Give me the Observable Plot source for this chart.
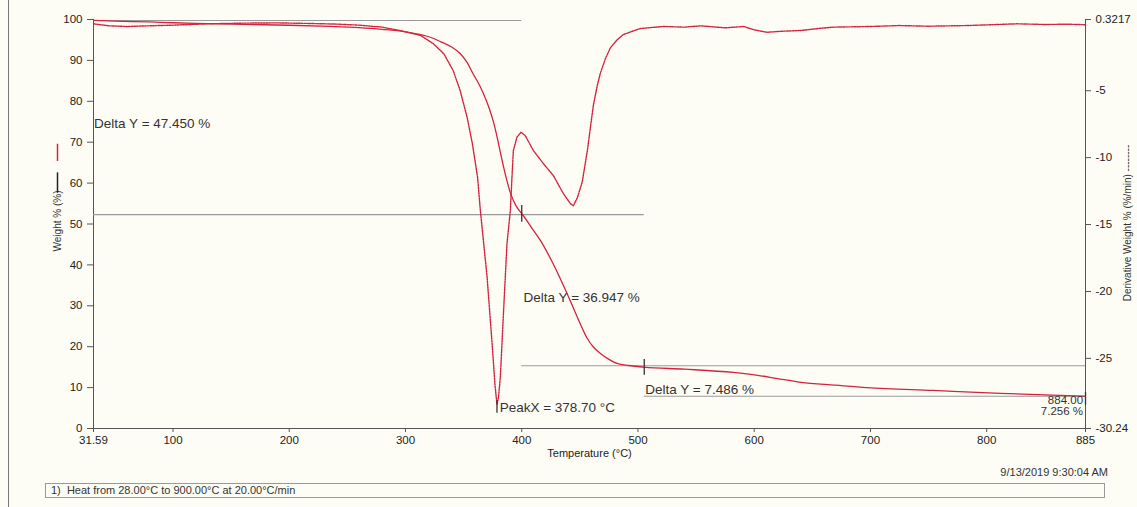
<!DOCTYPE html>
<html><head><meta charset="utf-8">
<script src="https://cdn.jsdelivr.net/npm/d3@7"></script>
<script src="https://cdn.jsdelivr.net/npm/@observablehq/plot@0.6"></script>
<style>
html,body{margin:0;padding:0;background:#fdfdf6;}
body{width:1137px;height:507px;position:relative;overflow:hidden;font-family:"Liberation Sans",Arial,sans-serif;color:#333;}
#chart{position:absolute;left:0;top:0;}
.border{position:absolute;left:8px;top:0;width:1px;height:507px;background:#777;}
#stamp{position:absolute;right:29px;top:466px;font-size:11px;}
#box{position:absolute;left:45px;top:483px;width:1060px;height:15px;border:1px solid #999;font-size:11px;line-height:13px;padding-left:5px;box-sizing:border-box;}
</style></head><body>
<div class="border"></div>
<div id="chart"></div>
<div id="stamp">9/13/2019 9:30:04 AM</div>
<div id="box">1)&nbsp; Heat from 28.00°C to 900.00°C at 20.00°C/min</div>
<script>
// ---- data ----
const weightT = [31.59,50,80,100,130,160,200,235,260,280,300,313,322,330,340,347,353,358,363,367,372,376,379,382,386,390,395,401,408,416,427,439,448,456,462,468,475,482,492,505,540,582,603,620,640,670,697,754,812,850,884];
const weightW = [99.8,99.6,99.4,99.2,99.0,98.8,98.6,98.3,98.0,97.6,97.0,96.3,95.6,94.6,93.2,91.7,89.5,86.8,84.3,81.9,78.3,74.6,71.0,67.0,62.0,57.8,54.5,52.2,49.3,46.0,40.3,33.0,27.1,22.2,19.8,18.3,16.9,15.9,15.4,15.0,14.5,13.7,13.0,12.2,11.3,10.6,10.0,9.3,8.6,8.2,7.9];
const dtgT = [31.6,45,60,80,100,130,160,190,215,240,260,280,295,305,313,324,333,341,347,353,357.5,362,364.4,370.2,374.5,377,378.7,380,381.6,384.4,387.3,390.2,391.6,392.8,395.9,399.4,403,410,418.6,427.2,435.8,441.8,444.4,447.8,452.1,456.4,459,461.6,465,467.6,472,476.2,482,487.4,502,522,540,554,575,591,600,611,625,640,655,668,700,725,750,783,800,826,850,870,885];
const dtgD = [0.0,-0.15,-0.2,-0.15,-0.1,0.0,0.05,0.07,0.03,-0.02,-0.1,-0.25,-0.5,-0.7,-0.87,-1.49,-2.24,-3.49,-4.98,-6.98,-8.94,-11.46,-13.95,-18.93,-23.89,-27.0,-28.45,-27.9,-26.4,-21.42,-16.44,-13.95,-11.46,-9.47,-8.47,-8.1,-8.35,-9.47,-10.44,-11.34,-12.68,-13.43,-13.6,-13.0,-11.8,-9.5,-7.8,-6.1,-4.6,-3.7,-2.6,-1.8,-1.2,-0.8,-0.35,-0.2,-0.25,-0.15,-0.3,-0.2,-0.45,-0.63,-0.55,-0.5,-0.35,-0.25,-0.2,-0.13,-0.18,-0.13,-0.08,0.0,-0.05,-0.03,-0.07];
const xTicks = [31.59,100,200,300,400,500,600,700,800,885];
const xTickLabels = ["31.59","100","200","300","400","500","600","700","800","885"];
const yTicks = [0,10,20,30,40,50,60,70,80,90,100];
const dTicks = [0.3217,-5,-10,-15,-20,-25,-30.24];
const dTickLabels = ["0.3217","-5","-10","-15","-20","-25","-30.24"];
const dRange = [-30.24, 0.3217];
// delta-Y step lines: level, from, to
const stepLevel = [99.76, 52.3, 15.36, 7.87];
const stepFrom = [31.59, 31.59, 400, 505.4];
const stepTo = [400, 505.4, 885, 885];
// markers on curves: x, y1, y2
const markX = [400, 505.4, 378.7, 885];
const markY1 = [50.4, 13.0, 3.7, 5.6];
const markY2 = [54.5, 16.9, 6.8, 8.8];
// annotations
const annoText = ["Delta Y = 47.450 %","Delta Y = 36.947 %","Delta Y = 7.486 %","PeakX = 378.70 °C"];
const annoX = [32.1, 401.6, 506.3, 381.0];
const annoY = [74.6, 31.9, 9.5, 5.2];
const endText = ["884.00","7.256 %"];
const endX = [882.9, 882.9];
const endY = [7.0, 4.1];

// ---- build ----
const toW = d => (d - dRange[0]) / (dRange[1] - dRange[0]) * 100;
const weight = weightT.map((t,i)=>({t, w: weightW[i]}));
const dtg = dtgT.map((t,i)=>({t, w: toW(dtgD[i])}));
const steps = stepLevel.map((y,i)=>({y, x1: stepFrom[i], x2: stepTo[i]}));
const marks = markX.map((x,i)=>({x, y1: markY1[i], y2: markY2[i]}));
const annos = annoText.map((s,i)=>({s, x: annoX[i], y: annoY[i]}));
const ends = endText.map((s,i)=>({s, x: endX[i], y: endY[i]}));
const dTicksW = dTicks.map(toW);
const RED = "#d4223f";
const AX = "#555";

const plot = Plot.plot({
  width: 1137, height: 460,
  marginTop: 19, marginBottom: 32, marginLeft: 93, marginRight: 52,
  style: {background: "transparent", fontFamily: "'Liberation Sans', Arial, sans-serif", fontSize: "11.5px", color: "#222"},
  x: {domain: [31.59, 885]},
  y: {domain: [0, 100]},
  marks: [
    Plot.axisX({ticks: xTicks, tickFormat: d => xTickLabels[xTicks.indexOf(d)], tickSize: 4, tickPadding: 3, label: null, stroke: AX}),
    Plot.axisY({ticks: yTicks, tickSize: 6, tickPadding: 5, label: null, stroke: AX}),
    Plot.axisY({anchor: "right", ticks: dTicksW, tickFormat: d => dTickLabels[dTicksW.indexOf(d)], tickSize: 5, tickPadding: 5, label: null, stroke: AX}),
    Plot.ruleX([31.59], {stroke: AX}),
    Plot.ruleX([885], {stroke: AX}),
    Plot.ruleY([0], {stroke: AX}),
    Plot.ruleY(steps, {y: "y", x1: "x1", x2: "x2", stroke: "#9a9a9a", strokeWidth: 1.1}),
    Plot.line(dtg, {x: "t", y: "w", stroke: RED, strokeWidth: 1.4, strokeDasharray: "1.6,1.1"}),
    Plot.line(weight, {x: "t", y: "w", stroke: RED, strokeWidth: 1.3, curve: "monotone-x"}),
    Plot.ruleX(marks, {x: "x", y1: "y1", y2: "y2", stroke: "#333", strokeWidth: 1.3}),
    Plot.text(annos, {x: "x", y: "y", text: "s", textAnchor: "start", fontSize: 13.5, fill: "#333", style: "letter-spacing:0.5px"}),
    Plot.text(ends, {x: "x", y: "y", text: "s", textAnchor: "end", fontSize: 11.5, fill: "#333"}),
    Plot.text(["Temperature (°C)"], {frameAnchor: "bottom", textAnchor: "middle", lineAnchor: "middle", dy: 25, fontSize: 11, fill: "#222"}),
    Plot.text(["Weight % (%)"], {frameAnchor: "left", textAnchor: "middle", lineAnchor: "middle", dx: -36, dy: -3, rotate: -90, fontSize: 10, fill: "#333"}),
    Plot.ruleX([31.59], {y1: 65.3, y2: 69.5, dx: -36, stroke: RED, strokeWidth: 1.5}),
    Plot.ruleX([31.59], {y1: 57.5, y2: 62.5, dx: -36, stroke: "#222", strokeWidth: 1.5}),
    Plot.text(["Derivative Weight % (%/min) --------"], {frameAnchor: "right", textAnchor: "middle", lineAnchor: "middle", dx: 42, dy: -1, rotate: -90, fontSize: 10, fill: "#333"})
  ]
});
document.getElementById("chart").appendChild(plot);
</script>
</body></html>
